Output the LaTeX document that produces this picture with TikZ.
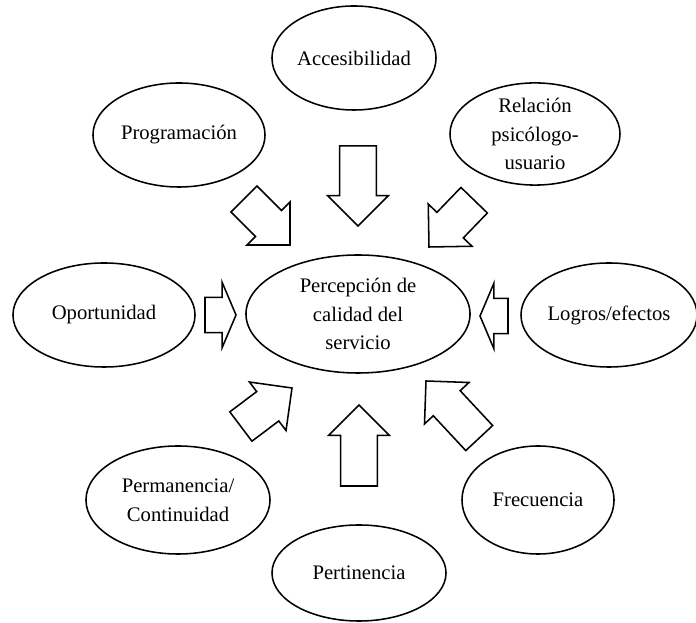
\documentclass[tikz,border=0pt]{standalone}
\usepackage{fontspec}
\setmainfont{Liberation Serif}
\usetikzlibrary{shapes.geometric,shapes.arrows}
\tikzstyle{factor}=[ellipse,draw=black,line width=1.1pt,inner sep=0pt,align=center,
                    font=\fontsize{14.7}{20.5}\selectfont]
\tikzstyle{bigarrow}=[single arrow,draw=black,line width=1.1pt,fill=white,anchor=tip,
                      inner xsep=0pt,inner ysep=0.44cm,outer sep=0pt,
                      single arrow head extend=0.3cm,single arrow tip angle=90]
\tikzstyle{smallarrow}=[bigarrow,inner ysep=0.42cm,single arrow head extend=0.38cm,
                        single arrow tip angle=134]

\begin{document}
\begin{tikzpicture}[x=0.025cm,y=0.025cm]
  \useasboundingbox (0,0) rectangle (696,623);

  % centre and factors
  \node[factor,minimum width=5.6cm,minimum height=2.95cm]  (P)    at (358,309) {Percepción de\\calidad del\\servicio};
  \node[factor,minimum width=4.1cm,minimum height=2.6cm]   (Acc)  at (354,565) {Accesibilidad};
  \node[factor,minimum width=4.3cm,minimum height=2.6cm]   (Prog) at (179,488) {Programación};
  \node[factor,minimum width=4.25cm,minimum height=2.55cm] (Rel)  at (535,489) {Relación\\psicólogo-\\usuario};
  \node[factor,minimum width=4.55cm,minimum height=2.6cm]  (Opo)  at (104,308) {Oportunidad};
  \node[factor,minimum width=4.4cm,minimum height=2.6cm]   (Log)  at (609,308) {Logros/efectos};
  \node[factor,minimum width=4.6cm,minimum height=2.7cm]   (Perm) at (178,123) {Permanencia/\\Continuidad};
  \node[factor,minimum width=3.8cm,minimum height=2.7cm]   (Frec) at (538,123) {Frecuencia};
  \node[factor,minimum width=4.35cm,minimum height=2.4cm]  (Pert) at (359,50)  {Pertinencia};

  % block arrows towards the centre
  \node[bigarrow,minimum height=2.0cm,rotate=-90]    (AAcc)  at (358,397) {};
  \node[bigarrow,minimum height=1.625cm,rotate=-45]  (AProg) at (290,378) {};
  \node[bigarrow,minimum height=1.625cm,rotate=-134] (ARel)  at (429,376) {};
  \node[smallarrow,minimum height=0.775cm]           (AOpo)  at (236,308) {};
  \node[smallarrow,minimum height=0.7cm,rotate=180]  (ALog)  at (480,307) {};
  \node[bigarrow,minimum height=2.025cm,rotate=90]   (APert) at (359,218) {};
  \node[bigarrow,minimum height=1.6cm,rotate=37]     (APerm) at (292,235) {};
  \node[bigarrow,minimum height=1.95cm,rotate=133]   (AFrec) at (426,242) {};
\end{tikzpicture}
\end{document}
